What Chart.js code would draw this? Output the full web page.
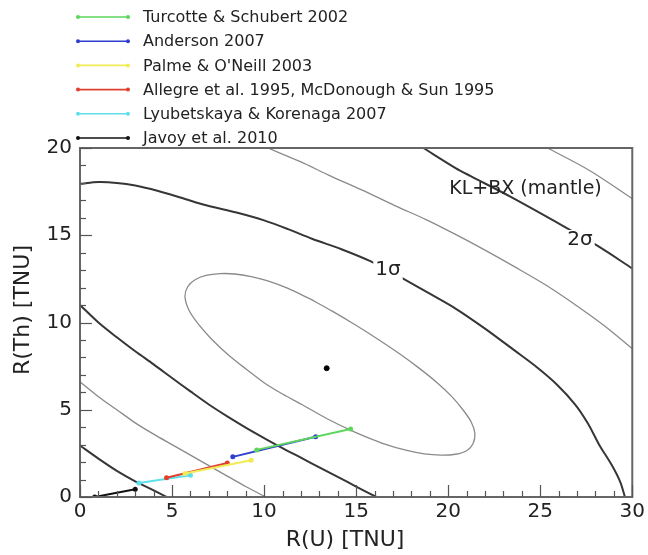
<!DOCTYPE html>
<html><head><meta charset="utf-8">
<script src="https://cdn.jsdelivr.net/npm/chart.js@4/dist/chart.umd.min.js"></script>
<style>html,body{margin:0;padding:0;background:#fff;}canvas{display:block;}</style>
</head><body>
<canvas id="c" width="648" height="555"></canvas>
<script>
// ---------- DATA ----------
const xMajorTicks = [0, 5, 10, 15, 20, 25, 30];
const yMajorTicks = [0, 5, 10, 15, 20];

const modelNames = ['Turcotte & Schubert 2002', 'Anderson 2007', "Palme & O'Neill 2003",
  'Allegre et al. 1995, McDonough & Sun 1995', 'Lyubetskaya & Korenaga 2007', 'Javoy et al. 2010'];
const modelU  = [[9.6, 14.7], [8.3, 12.8], [5.7, 9.3], [4.7, 8.0], [3.2, 6.0], [0.8, 3.0]];
const modelTh = [[2.7, 3.9], [2.3, 3.45], [1.35, 2.1], [1.1, 1.95], [0.8, 1.25], [0.0, 0.45]];

const bestFitU = [13.4];
const bestFitTh = [7.38];

// contour lines, [R(U), R(Th)] pairs
const contourInner = [[12.5,11.35],[13.7,10.65],[14.9,9.9],[16.1,9.1],[17.3,8.25],[18.4,7.4],[19.4,6.55],[20.2,5.75],[20.8,5.0],[21.25,4.3],[21.45,3.65],[21.35,3.05],[21.0,2.65],[20.4,2.45],[19.6,2.4],[18.7,2.47],[17.7,2.68],[16.6,3.02],[15.6,3.42],[14.6,3.88],[13.4,4.5],[12.05,5.3],[11.0,5.9],[10.0,6.55],[9.0,7.35],[8.0,8.2],[7.1,9.1],[6.4,9.95],[5.9,10.75],[5.7,11.5],[5.85,12.05],[6.25,12.45],[6.85,12.7],[7.6,12.8],[8.4,12.78],[9.3,12.63],[10.2,12.38],[11.3,11.95],[12.5,11.35]];
const contourOneSigma = [[0,17.95],[1,18.05],[2,18.0],[3,17.85],[4.2,17.55],[5.5,17.15],[6.9,16.7],[8.5,16.3],[10,15.85],[11.3,15.35],[12.6,14.8],[14.2,14.2],[15.8,13.5],[17.5,12.55],[19.0,11.65],[20.4,10.8],[22.0,9.65],[23.6,8.4],[24.8,7.45],[25.9,6.45],[26.9,5.3],[27.6,4.2],[28.2,3.0],[28.9,1.8],[29.35,0.85],[29.6,0]];
const contourTwoSigma = [[18.65,20],[20.4,18.85],[21.2,18.4],[23.4,17.2],[26.3,15.5],[28.1,14.4],[30,13.1]];
const contourThinUpper = [[10.2,20],[12,19.2],[13.5,18.45],[15.3,17.6],[17.1,16.7],[18.8,15.9],[20.4,15.05],[22,14.15],[23.6,13.2],[25.3,12.15],[27,10.95],[28.5,9.8],[30,8.5]];
const contourThinTop = [[25.4,20],[27.7,18.7],[30,17.1]];
const contourThickMid = [[0,11.0],[1,10.0],[2,9.15],[3,8.35],[4,7.6],[5,6.82],[6,6.05],[7,5.3],[8,4.62],[9,3.98],[10,3.38],[11,2.8],[12,2.25],[13,1.7],[14,1.15],[15,0.6],[16.1,0]];
const contourThinLow = [[0,6.6],[1,5.75],[2,5.0],[3,4.25],[4,3.6],[5,3.0],[6,2.4],[7,1.8],[8,1.2],[9,0.6],[10,0.05],[10.1,0]];
const contourThickLow = [[0,2.95],[1,2.2],[2,1.5],[3,0.9],[4,0.38],[4.7,0]];

const labelTexts = ['1\u03c3', '2\u03c3', 'KL+BX (mantle)'];
const labelU = [16.73, 27.16, 24.2];
const labelTh = [13.0, 14.73, 17.64];

// ---------- STYLE ----------
const FONT = "'DejaVu Sans', sans-serif";
const modelColors = ['#5cd65c', '#2f3fd2', '#f0ec55', '#e0402e', '#5ee0ea', '#111111'];
const THICK = '#363636', THIN = '#8a8a8a';

const pts = arr => arr.map(p => ({x: p[0], y: p[1]}));

const datasets = [];
modelNames.forEach((name, i) => {
  datasets.push({
    label: name, isModel: true,
    data: [{x: modelU[i][0], y: modelTh[i][0]}, {x: modelU[i][1], y: modelTh[i][1]}],
    showLine: true, borderColor: modelColors[i], backgroundColor: modelColors[i],
    borderWidth: 2, pointRadius: 2.5, pointBorderWidth: 0, order: i
  });
});
datasets.push({label: 'best fit', data: [{x: bestFitU[0], y: bestFitTh[0]}], showLine: false,
  pointRadius: 2.5, backgroundColor: '#000', borderColor: '#000', order: 8});
const contourDefs = [
  [contourInner, false], [contourOneSigma, true], [contourTwoSigma, true], [contourThinUpper, false],
  [contourThinTop, false], [contourThickMid, true], [contourThinLow, false], [contourThickLow, true]
];
contourDefs.forEach(([arr, thick], k) => {
  datasets.push({label: 'contour' + k, data: pts(arr), showLine: true, pointRadius: 0,
    borderColor: thick ? THICK : THIN, borderWidth: thick ? 2 : 1.3, tension: 0.3, order: 20});
});

const overlay = {
  id: 'overlay',
  afterDraw(chart) {
    const ctx = chart.ctx, a = chart.chartArea;
    const xs = chart.scales.x, ys = chart.scales.y;
    ctx.save();
    // plot labels
    labelTexts.forEach((t, i) => {
      const px = xs.getPixelForValue(labelU[i]), py = ys.getPixelForValue(labelTh[i]);
      const big = i < 2;
      ctx.font = (big ? '20px ' : '19px ') + FONT;
      const w = ctx.measureText(t).width;
      if (big) { ctx.fillStyle = '#fff'; ctx.fillRect(px - w / 2 - 2, py - 10, w + 4, 20); }
      ctx.fillStyle = '#222'; ctx.textAlign = 'center'; ctx.textBaseline = 'middle';
      ctx.fillText(t, px, py);
    });
    // frame
    ctx.strokeStyle = '#666'; ctx.lineWidth = 2;
    ctx.strokeRect(a.left, a.top, a.right - a.left, a.bottom - a.top);
    // ticks (inward)
    ctx.strokeStyle = '#555'; ctx.lineWidth = 1.2;
    for (let v = xs.min; v <= xs.max; v += 1) {
      const p = Math.round(xs.getPixelForValue(v)) + 0.5;
      const len = xMajorTicks.includes(v) ? 12 : 6;
      ctx.beginPath(); ctx.moveTo(p, a.bottom); ctx.lineTo(p, a.bottom - len); ctx.stroke();
    }
    for (let v = ys.min; v <= ys.max; v += 1) {
      const p = Math.round(ys.getPixelForValue(v)) + 0.5;
      const len = yMajorTicks.includes(v) ? 12 : 6;
      ctx.beginPath(); ctx.moveTo(a.left, p); ctx.lineTo(a.left + len, p); ctx.stroke();
    }
    // axis titles
    ctx.fillStyle = '#222'; ctx.font = '22px ' + FONT; ctx.textAlign = 'center'; ctx.textBaseline = 'middle';
    ctx.fillText('R(U) [TNU]', 345, 540);
    ctx.save(); ctx.translate(23, 310); ctx.rotate(-Math.PI / 2); ctx.fillText('R(Th) [TNU]', 0, 0); ctx.restore();
    // legend
    ctx.font = '16px ' + FONT; ctx.textAlign = 'left';
    chart.data.datasets.filter(d => d.isModel).forEach((d, i) => {
      const y = 17 + i * 24.2;
      ctx.strokeStyle = d.borderColor; ctx.lineWidth = 1.6;
      ctx.beginPath(); ctx.moveTo(78, y); ctx.lineTo(128, y); ctx.stroke();
      ctx.fillStyle = d.borderColor;
      [78, 128].forEach(x => { ctx.beginPath(); ctx.arc(x, y, 2, 0, Math.PI * 2); ctx.fill(); });
      ctx.fillStyle = '#222'; ctx.fillText(d.label, 143, y + 1);
    });
    ctx.restore();
  }
};

new Chart(document.getElementById('c'), {
  type: 'scatter',
  data: {datasets},
  options: {
    responsive: false, animation: false, devicePixelRatio: 1,
    layout: {padding: {top: 148, right: 13, left: 0, bottom: 0}},
    plugins: {legend: {display: false}, tooltip: {enabled: false}},
    scales: {
      x: {type: 'linear', min: 0, max: 30,
        afterFit(s) { s.height = 58; },
        afterBuildTicks(s) { s.ticks = xMajorTicks.map(v => ({value: v})); },
        grid: {display: false, drawTicks: false}, border: {display: false},
        ticks: {font: {size: 20, family: FONT}, color: '#222', padding: 3, maxRotation: 0}},
      y: {type: 'linear', min: 0, max: 20,
        afterFit(s) { s.width = 80; },
        afterBuildTicks(s) { s.ticks = yMajorTicks.map(v => ({value: v})); },
        grid: {display: false, drawTicks: false}, border: {display: false},
        ticks: {font: {size: 20, family: FONT}, color: '#222', padding: 8}}
    }
  },
  plugins: [overlay]
});
</script></body></html>
